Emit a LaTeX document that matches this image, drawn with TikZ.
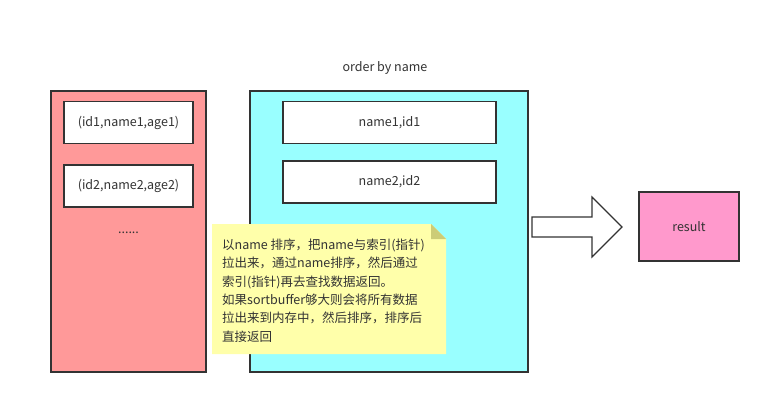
\documentclass[tikz,border=0pt]{standalone}
\usepackage{fontspec}
\setmainfont{Noto Sans CJK SC}
\usepackage{tikz}

\definecolor{rowred}{HTML}{FF9999}
\definecolor{idxcyan}{HTML}{99FFFF}
\definecolor{noteyellow}{HTML}{FFFFAA}
\definecolor{notefold}{HTML}{CCCC77}
\definecolor{respink}{HTML}{FF99CC}
\definecolor{edge}{HTML}{333333}

\tikzset{
  frame/.style={draw=edge,line width=1.5pt},
  rowbox/.style={frame,fill=white,minimum height=42pt,inner sep=0pt},
  txt/.style={text=edge,font=\fontsize{12.5}{18.4}\selectfont}
}

\begin{document}
\begin{tikzpicture}[x=1pt,y=-1pt]
\useasboundingbox[fill=white] (0,0) rectangle (770,405);

\coordinate (tl) at (51,91);
\coordinate (tr) at (206,372);
\coordinate (il) at (250,91);
\coordinate (ir) at (528,372);

% table area
\draw[frame,fill=rowred] (tl) rectangle (tr);
\node[rowbox,txt,minimum width=129pt] (r1) at (128.5,122.5) {(id1,name1,age1)};
\node[rowbox,txt,minimum width=129pt] (r2) at (128.5,186) {(id2,name2,age2)};
\node[txt] (dots) at (128.5,233) {......};

% index area
\draw[frame,fill=idxcyan] (il) rectangle (ir);
\node[txt] (title) at (385,68) {order by name};
\node[rowbox,txt,minimum width=213pt] (n1) at (389.5,122.5) {name1,id1};
\node[rowbox,txt,minimum width=213pt] (n2) at (389.5,182) {name2,id2};

% note
\fill[noteyellow] (212,224) -- (431,224) -- (446,239) -- (446,354) -- (212,354) -- cycle;
\fill[notefold] (431,224) -- (431,239) -- (446,239) -- cycle;
\node[txt,anchor=north west,align=left,inner sep=0pt] (note) at (222,238.5)
  {以name 排序，把name与索引(指针)\\拉出来，通过name排序，然后通过\\索引(指针)再去查找数据返回。\\如果sortbuffer够大则会将所有数据\\拉出来到内存中，然后排序，排序后\\直接返回};

% block arrow
\draw[draw=edge,line width=1.2pt,fill=white,line join=miter]
  (532,217) -- (592,217) -- (592,197) -- (622,227) -- (592,257) -- (592,237) -- (532,237) -- cycle;

% result
\node[frame,fill=respink,txt,minimum width=100pt,minimum height=69pt,inner sep=0pt] (res) at (689,226.5) {result};

\end{tikzpicture}
\end{document}
